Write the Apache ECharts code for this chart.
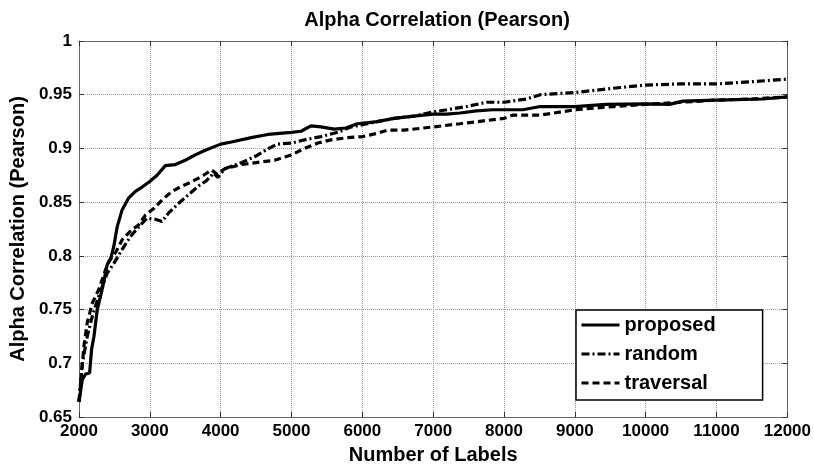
<!DOCTYPE html>
<html>
<head>
<meta charset="utf-8">
<script src="https://cdn.jsdelivr.net/npm/echarts@6/dist/echarts.min.js"></script>
<style>
html,body{margin:0;padding:0;background:#fff;}
#chart{width:814px;height:470px;}
</style>
</head>
<body>
<div id="chart"></div>
<script>
var seriesNames = ['proposed', 'random', 'traversal'];
var xTicks = [2000, 3000, 4000, 5000, 6000, 7000, 8000, 9000, 10000, 11000, 12000];
var yTicks = [0.65, 0.7, 0.75, 0.8, 0.85, 0.9, 0.95, 1];

var proposedX = [2000, 2047, 2094, 2150, 2178, 2211, 2258, 2328, 2399, 2446, 2492, 2539, 2610, 2703, 2797, 2868, 2994, 3102, 3219, 3360, 3500, 3641, 3775, 4000, 4150, 4431, 4666, 5000, 5135, 5275, 5415, 5600, 5765, 5930, 6210, 6445, 6725, 7000, 7190, 7380, 7610, 7845, 8265, 8513, 9000, 9440, 10000, 10336, 10525, 11000, 11656, 12000];
var proposedY = [0.664, 0.685, 0.690, 0.691, 0.713, 0.725, 0.750, 0.769, 0.792, 0.797, 0.809, 0.827, 0.843, 0.854, 0.860, 0.863, 0.869, 0.875, 0.884, 0.885, 0.889, 0.894, 0.898, 0.904, 0.906, 0.910, 0.913, 0.915, 0.916, 0.921, 0.920, 0.918, 0.919, 0.923, 0.925, 0.928, 0.930, 0.932, 0.932, 0.933, 0.935, 0.936, 0.936, 0.939, 0.939, 0.941, 0.9415, 0.941, 0.944, 0.945, 0.946, 0.948];

var randomX = [2000, 2047, 2117, 2188, 2281, 2399, 2492, 2610, 2727, 2844, 2961, 3079, 3172, 3266, 3407, 3547, 3688, 3800, 3900, 3960, 4056, 4300, 4500, 4650, 4800, 5000, 5183, 5418, 5652, 5840, 6000, 6211, 6446, 6727, 7000, 7192, 7474, 7755, 8000, 8315, 8513, 9000, 9539, 10000, 10470, 11000, 11470, 12000];
var randomY = [0.664, 0.700, 0.725, 0.744, 0.763, 0.784, 0.793, 0.806, 0.818, 0.827, 0.835, 0.834, 0.832, 0.840, 0.849, 0.857, 0.865, 0.870, 0.877, 0.873, 0.881, 0.887, 0.893, 0.899, 0.904, 0.905, 0.908, 0.911, 0.915, 0.920, 0.922, 0.925, 0.928, 0.930, 0.934, 0.936, 0.939, 0.943, 0.943, 0.946, 0.950, 0.952, 0.956, 0.959, 0.960, 0.960, 0.962, 0.9645];

var traversalX = [2000, 2070, 2117, 2188, 2281, 2375, 2422, 2516, 2610, 2727, 2844, 2938, 3055, 3172, 3313, 3454, 3594, 3758, 3870, 3950, 4056, 4291, 4525, 4760, 5000, 5183, 5371, 5558, 5793, 6000, 6211, 6352, 6587, 7000, 7380, 7755, 8000, 8127, 8513, 9000, 9539, 10000, 10500, 11000, 11500, 12000];
var traversalY = [0.664, 0.716, 0.738, 0.756, 0.769, 0.787, 0.795, 0.803, 0.815, 0.823, 0.829, 0.838, 0.844, 0.852, 0.860, 0.865, 0.869, 0.875, 0.880, 0.876, 0.881, 0.885, 0.887, 0.889, 0.894, 0.900, 0.905, 0.908, 0.910, 0.911, 0.914, 0.917, 0.917, 0.920, 0.923, 0.926, 0.928, 0.931, 0.931, 0.936, 0.939, 0.941, 0.943, 0.945, 0.946, 0.948];

function zip(xs, ys) { return xs.map(function (x, i) { return [x, ys[i]]; }); }

var FONT = 'Liberation Sans';
var chart = echarts.init(document.getElementById('chart'), null, {renderer: 'canvas'});

var axisCommon = {
  axisLine: {show: true, onZero: false, lineStyle: {color: '#666', width: 1}},
  axisTick: {show: true, inside: true, length: 5, lineStyle: {color: '#333', width: 1}}
};

var option = {
  backgroundColor: '#fff',
  animation: false,
  title: {
    text: 'Alpha Correlation (Pearson)',
    left: 432, top: 5, textAlign: 'center',
    textStyle: {fontFamily: FONT, fontWeight: 'bold', fontSize: 20, color: '#000'}
  },
  legend: {
    data: seriesNames,
    orient: 'vertical',
    left: 576, top: 310,
    itemWidth: 38, itemHeight: 20, itemGap: 9,
    padding: [5, 47, 7, 4],
    borderColor: '#000', borderWidth: 1.5,
    backgroundColor: '#fff',
    itemStyle: {opacity: 0},
    lineStyle: {width: 3},
    textStyle: {fontFamily: FONT, fontWeight: 'bold', fontSize: 20, color: '#000'}
  },
  grid: {left: 77, right: 26, top: 41, bottom: 52, containLabel: false},
  xAxis: [
    Object.assign({
      type: 'value', min: xTicks[0], max: xTicks[xTicks.length - 1], interval: 1000,
      name: 'Number of Labels', nameLocation: 'middle', nameGap: 28,
      nameTextStyle: {fontFamily: FONT, fontWeight: 'bold', fontSize: 20, color: '#000'},
      axisLabel: {fontFamily: FONT, fontWeight: 'bold', fontSize: 17, color: '#000', margin: 6,
        formatter: function (v) { return String(v); }},
      splitLine: {show: true, lineStyle: {color: '#999', type: 'dotted', width: 1}}
    }, axisCommon),
    Object.assign({
      type: 'value', position: 'top', min: xTicks[0], max: xTicks[xTicks.length - 1], interval: 1000,
      axisLabel: {show: false}, splitLine: {show: false}
    }, axisCommon)
  ],
  yAxis: [
    Object.assign({
      type: 'value', min: yTicks[0], max: yTicks[yTicks.length - 1], interval: 0.05,
      name: 'Alpha Correlation (Pearson)', nameLocation: 'middle', nameGap: 42, nameRotate: 90,
      nameTextStyle: {fontFamily: FONT, fontWeight: 'bold', fontSize: 20, color: '#000'},
      axisLabel: {fontFamily: FONT, fontWeight: 'bold', fontSize: 17, color: '#000', margin: 7,
        formatter: function (v) { return String(Math.round(v * 100) / 100); }},
      splitLine: {show: true, lineStyle: {color: '#999', type: 'dotted', width: 1}}
    }, axisCommon),
    Object.assign({
      type: 'value', position: 'right', min: yTicks[0], max: yTicks[yTicks.length - 1], interval: 0.05,
      axisLabel: {show: false}, splitLine: {show: false}
    }, axisCommon)
  ],
  series: [
    {name: 'proposed', type: 'line', data: zip(proposedX, proposedY), showSymbol: false, symbol: 'none',
     color: '#000', lineStyle: {color: '#000', width: 3.2, type: 'solid'}, z: 5},
    {name: 'random', type: 'line', data: zip(randomX, randomY), showSymbol: false, symbol: 'none',
     color: '#000', lineStyle: {color: '#000', width: 3.2, type: [8, 3, 2, 3]}, z: 4},
    {name: 'traversal', type: 'line', data: zip(traversalX, traversalY), showSymbol: false, symbol: 'none',
     color: '#000', lineStyle: {color: '#000', width: 3.2, type: [7, 4]}, z: 3}
  ]
};
chart.setOption(option);
</script>
</body>
</html>
